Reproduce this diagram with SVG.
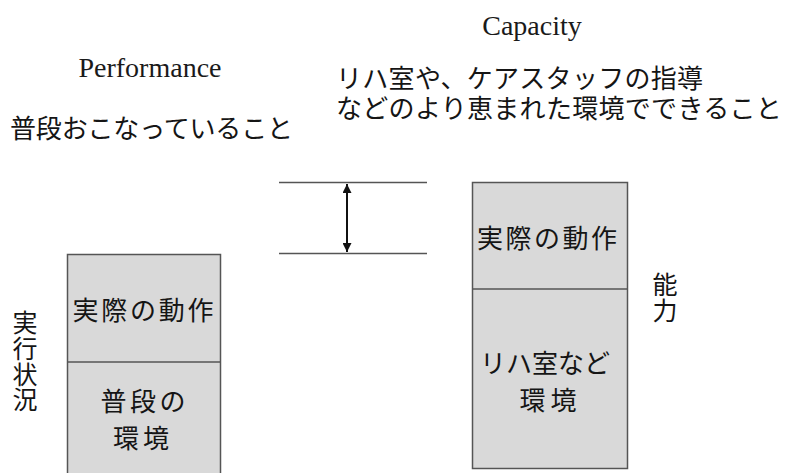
<svg xmlns="http://www.w3.org/2000/svg" width="787" height="473" viewBox="0 0 787 473">
<style>
.jp{font-family:"Noto Sans CJK JP","Noto Sans",sans-serif;fill:#151515}
.en{font-family:"Liberation Serif","Times New Roman",serif;fill:#1a1a1a;font-size:28px;text-anchor:middle}
.box{fill:#d9d9d9;stroke:#555;stroke-width:1.5}
.mid{text-anchor:middle}
.vert{writing-mode:vertical-rl;font-size:25px;letter-spacing:0.8px}
.rule{stroke:#555;stroke-width:1.5;fill:none}
</style>
<defs>
<marker id="ah" viewBox="0 0 10 10" refX="10" refY="5" markerWidth="4.5" markerHeight="4.5" orient="auto-start-reverse" markerUnits="strokeWidth">
<path d="M0,0 L10,5 L0,10 Z" fill="#111"/>
</marker>
</defs>
<rect width="787" height="473" fill="#fff"/>
<g id="titles">
<text class="en" x="532" y="35">Capacity</text>
<text class="en" x="150" y="77">Performance</text>
<text class="jp" x="10" y="138" font-size="26" textLength="283" lengthAdjust="spacing">普段おこなっていること</text>
<text class="jp" font-size="26" letter-spacing="0.3"><tspan x="336" y="88">リハ室や、ケアスタッフの指導</tspan><tspan x="336" y="118">などのより恵まれた環境でできること</tspan></text>
</g>
<g id="performance-box">
<rect class="box" x="67.5" y="254.5" width="153" height="230"/>
<line class="rule" x1="67.5" y1="362" x2="220.5" y2="362"/>
<text class="jp mid" x="143" y="320" font-size="26" textLength="141" lengthAdjust="spacing">実際の動作</text>
<text class="jp mid" x="143" y="411" font-size="26" textLength="85" lengthAdjust="spacing">普段の</text>
<text class="jp mid" x="141" y="448" font-size="26" textLength="56" lengthAdjust="spacing">環境</text>
</g>
<g id="capacity-box">
<rect class="box" x="472.5" y="182.5" width="155" height="286"/>
<line class="rule" x1="472.5" y1="289" x2="627.5" y2="289"/>
<text class="jp mid" x="547" y="248" font-size="26" textLength="140" lengthAdjust="spacing">実際の動作</text>
<text class="jp mid" x="545" y="373" font-size="26" textLength="130" lengthAdjust="spacing">リハ室など</text>
<text class="jp mid" x="548" y="410" font-size="26" textLength="57" lengthAdjust="spacing">環境</text>
</g>
<g id="label-performance">
<text class="jp vert" x="25" y="310">実行状況</text>
</g>
<g id="label-capacity">
<text class="jp vert" x="665" y="272">能力</text>
</g>
<g id="connectors">
<line class="rule" x1="279" y1="182.5" x2="427" y2="182.5"/>
<line class="rule" x1="279" y1="253.5" x2="427" y2="253.5"/>
<line x1="347" y1="184" x2="347" y2="252" stroke="#111" stroke-width="2" marker-start="url(#ah)" marker-end="url(#ah)"/>
</g>
</svg>
